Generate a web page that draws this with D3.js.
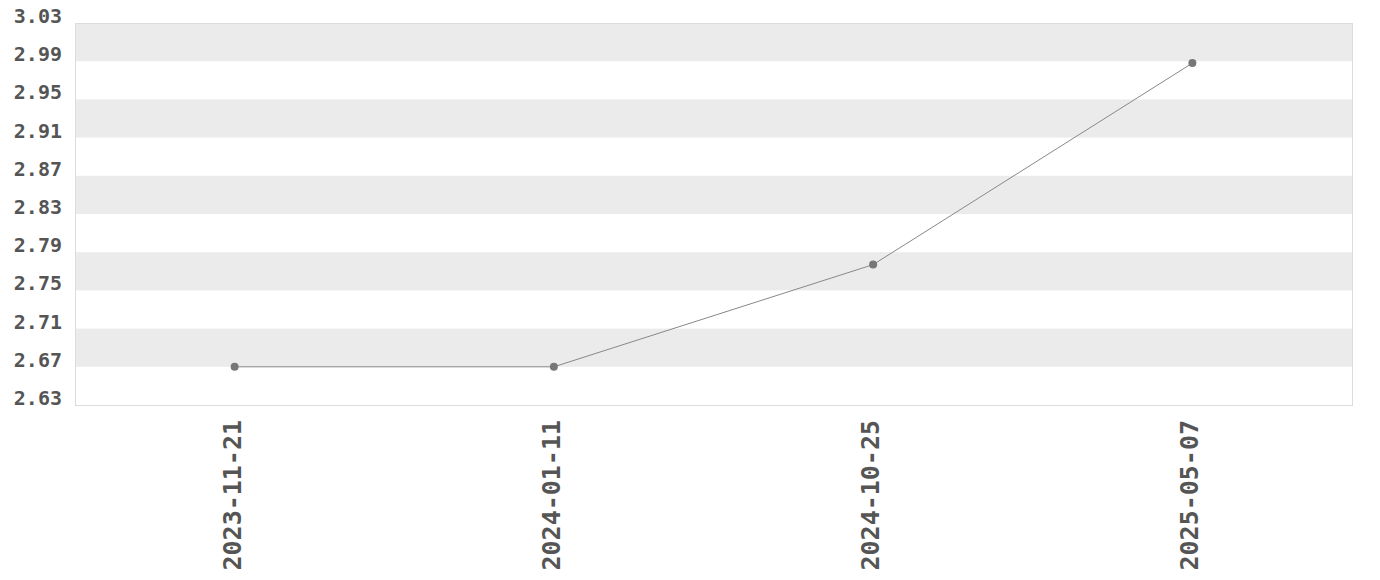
<!DOCTYPE html>
<html>
<head>
<meta charset="utf-8">
<script src="https://cdn.jsdelivr.net/npm/d3@7"></script>
<style>
  body { margin: 0; background: #fff; }
  text { font-family: "DejaVu Sans Mono", monospace; font-weight: bold; fill: #555; }
</style>
</head>
<body>
<div id="chart"></div>
<script>
const dates = ["2023-11-21", "2024-01-11", "2024-10-25", "2025-05-07"];
const values = [2.67, 2.67, 2.777, 2.988];
const yTicks = [2.63, 2.67, 2.71, 2.75, 2.79, 2.83, 2.87, 2.91, 2.95, 2.99, 3.03];

const width = 1380, height = 580;
const margin = {top: 23, right: 28, bottom: 175, left: 75};

const svg = d3.select("#chart").append("svg")
	.attr("width", width)
	.attr("height", height);

const x = d3.scalePoint()
	.domain(dates)
	.range([margin.left, width - margin.right])
	.padding(0.5);

const y = d3.scaleLinear()
	.domain([2.63, 3.03])
	.range([height - margin.bottom, margin.top]);

// alternating bands
const bands = d3.range(0, yTicks.length - 1).filter(i => i % 2 === 1);
svg.append("g").selectAll("rect")
	.data(bands).enter()
	.append("rect")
	.attr("x", margin.left)
	.attr("width", width - margin.left - margin.right)
	.attr("y", i => y(yTicks[i + 1]))
	.attr("height", i => y(yTicks[i]) - y(yTicks[i + 1]))
	.attr("fill", "#ebebeb");

// plot border
svg.append("rect")
	.attr("x", margin.left + 0.5)
	.attr("y", margin.top + 0.5)
	.attr("width", width - margin.left - margin.right)
	.attr("height", height - margin.top - margin.bottom)
	.attr("fill", "none")
	.attr("stroke", "#dcdcdc");

// y axis labels
svg.append("g").selectAll("text")
	.data(yTicks).enter()
	.append("text")
	.attr("x", margin.left - 13)
	.attr("y", d => y(d))
	.attr("text-anchor", "end")
	.style("font-size", "20px")
	.text(d => d.toFixed(2));

// x axis labels
svg.append("g").selectAll("text")
	.data(dates).enter()
	.append("text")
	.attr("transform", d => `translate(${x(d) + 6},${height - margin.bottom + 15}) rotate(-90)`)
	.attr("text-anchor", "end")
	.style("font-size", "25px")
	.text(d => d);

const line = d3.line()
	.x((d, i) => x(dates[i]))
	.y(d => y(d));

svg.append("path")
	.datum(values)
	.attr("d", line)
	.attr("fill", "none")
	.attr("stroke", "#888")
	.attr("stroke-width", 1);

svg.append("g").selectAll("circle")
	.data(values).enter()
	.append("circle")
	.attr("cx", (d, i) => x(dates[i]))
	.attr("cy", d => y(d))
	.attr("r", 4)
	.attr("fill", "#777");
</script>
</body>
</html>
